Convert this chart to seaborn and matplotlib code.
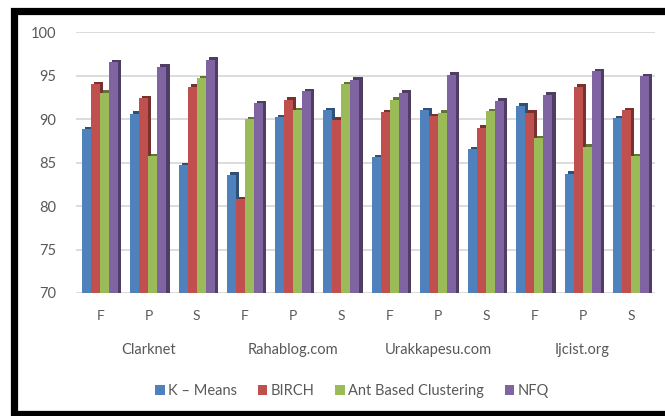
import matplotlib
matplotlib.use("Agg")
import matplotlib.pyplot as plt
import matplotlib.patheffects as pe
import matplotlib.transforms as mtransforms
from matplotlib.colors import to_rgb
from matplotlib.patches import Patch
from matplotlib.lines import Line2D
import numpy as np
import pandas as pd
import seaborn as sns

# Accuracy per site and metric (F, P, S) for each clustering method
sites = ["Clarknet", "Rahablog.com", "Urakkapesu.com", "Ijcist.org"]
metrics = ["F", "P", "S"]
methods = ["K \u2013 Means", "BIRCH", "Ant Based Clustering", "NFQ"]

kmeans = [88.8, 90.6, 84.7, 83.6, 90.2, 91.0, 85.6, 91.0, 86.5, 91.5, 83.7, 90.1]
birch = [94.0, 92.4, 93.7, 80.8, 92.2, 89.9, 90.8, 90.3, 89.0, 90.7, 93.7, 91.0]
ant = [93.0, 85.7, 94.7, 90.0, 91.0, 94.0, 92.2, 90.7, 90.9, 87.8, 86.8, 85.7]
nfq = [96.5, 96.0, 96.8, 91.8, 93.2, 94.5, 93.0, 95.1, 92.1, 92.8, 95.5, 94.9]

y_ticks = [70, 75, 80, 85, 90, 95, 100]

colors = ["#4F81BD", "#C0504D", "#9BBB59", "#8064A2"]
text_color = "#595959"

# Long-form table: one row per (site, metric, method)
keys = [f"{s}|{m}" for s in sites for m in metrics]
rows = []
for method, values in zip(methods, [kmeans, birch, ant, nfq]):
    for key, v in zip(keys, values):
        rows.append({"key": key, "method": method, "value": v})
df = pd.DataFrame(rows)

sns.set_theme(style="white")
plt.rcParams["font.family"] = ["Lato", "DejaVu Sans"]

fig = plt.figure(figsize=(6.65, 4.16), dpi=100)
ax = fig.add_axes([76 / 665, 1 - 293 / 416, (655 - 76) / 665, (293 - 32) / 416])

sns.barplot(data=df, x="key", y="value", hue="method", order=keys,
            hue_order=methods, palette=colors, width=0.75, gap=0,
            saturation=1, errorbar=None, ax=ax, legend=False, zorder=3)

# Give each column a darker side/top face for a raised look
for patch in ax.patches:
    face = np.array(to_rgb(patch.get_facecolor()))
    dark = tuple(face * 0.62)
    patch.set_edgecolor("none")
    patch.set_path_effects([
        pe.SimplePatchShadow(offset=(2.2, 1.8), shadow_rgbFace=dark, alpha=1.0, rho=1.0),
        pe.Normal(),
    ])

ax.set_ylim(70, 100)
ax.set_yticks(y_ticks)
ax.set_yticklabels([str(t) for t in y_ticks])
ax.set_xticks(range(len(keys)))
ax.set_xticklabels([k.split("|")[1] for k in keys])
ax.set_xlim(-0.5, len(keys) - 0.5)
ax.set_xlabel("")
ax.set_ylabel("")

ax.yaxis.grid(True, color="#D9D9D9", linewidth=1.3, zorder=0)
ax.xaxis.grid(False)
ax.set_axisbelow(True)
for sp in ax.spines.values():
    sp.set_visible(False)

ax.tick_params(axis="y", length=0, pad=14, labelsize=10.5, labelcolor=text_color)
ax.tick_params(axis="x", length=0, pad=12, labelsize=10, labelcolor=text_color)

# Site names centred under each group of three metrics
trans = mtransforms.blended_transform_factory(ax.transData, ax.transAxes)
for i, site in enumerate(sites):
    centre = i * len(metrics) + (len(metrics) - 1) / 2
    ax.text(centre, -0.218, site, transform=trans, ha="center", va="center",
            fontsize=10.5, color=text_color)

handles = [Patch(facecolor=c, edgecolor="none") for c in colors]
fig.legend(handles, methods, loc="center", bbox_to_anchor=(352 / 665, 1 - 391 / 416),
           ncol=4, frameon=False, handlelength=0.65, handleheight=0.65,
           handletextpad=0.25, columnspacing=1.4, fontsize=10.5,
           labelcolor=text_color)

# Heavy black frame on the top, left and bottom of the chart
W, H = 665, 416
frame_pts = [(W + 10, 11), (13.5, 11), (13.5, 413.5), (W + 10, 413.5)]
fx = [p[0] / W for p in frame_pts]
fy = [1 - p[1] / H for p in frame_pts]
fig.add_artist(Line2D(fx, fy, transform=fig.transFigure, color="black",
                      linewidth=5.2, solid_joinstyle="miter", clip_on=False))

fig.savefig("out.png", dpi=100, facecolor="white")
